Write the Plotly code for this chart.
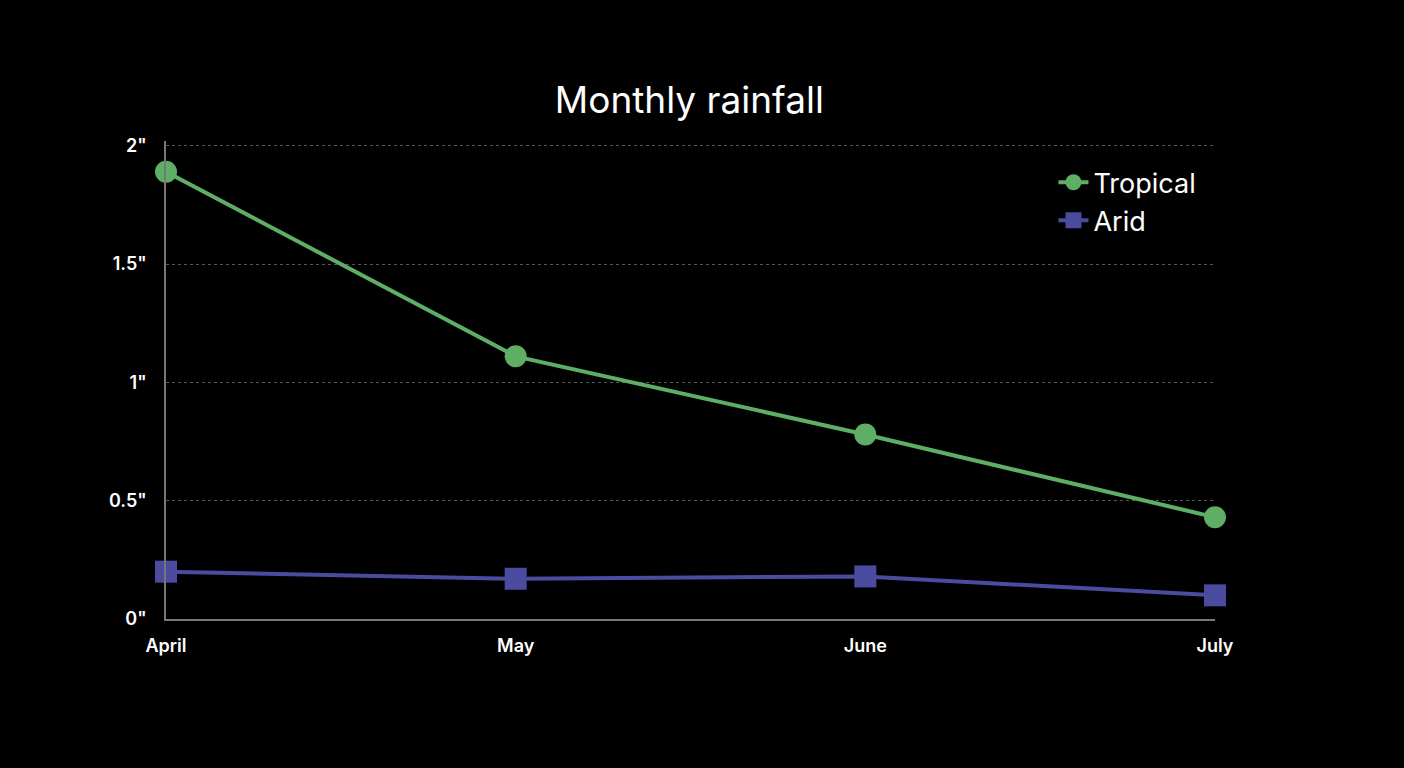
import plotly.graph_objects as go

months = ["April", "May", "June", "July"]
tropical = [1.89, 1.11, 0.78, 0.43]
arid = [0.20, 0.17, 0.18, 0.10]
y_ticks = [0, 0.5, 1, 1.5, 2]
y_labels = ['0"', '0.5"', '1"', '1.5"', '2"']

fig = go.Figure()
fig.add_trace(go.Scatter(
    x=months, y=tropical, name="Tropical", mode="lines+markers",
    line=dict(color="#5fae65", width=4),
    marker=dict(symbol="circle", size=22, color="#5fae65"),
    cliponaxis=False,
))
fig.add_trace(go.Scatter(
    x=months, y=arid, name="Arid", mode="lines+markers",
    line=dict(color="#4b4ba0", width=4),
    marker=dict(symbol="square", size=22, color="#4b4ba0"),
    cliponaxis=False,
))

fig.update_layout(
    width=1404, height=768,
    paper_bgcolor="black", plot_bgcolor="black",
    margin=dict(l=166, r=189, t=141, b=149),
    font=dict(family="Inter, Roboto, sans-serif", color="white", size=17),
    title=dict(text="Monthly rainfall", x=0.491, xanchor="center",
               y=0.87, yanchor="middle", font=dict(size=37, color="white")),
    legend=dict(x=0.846, y=0.964, xanchor="left", yanchor="top",
                font=dict(size=27, color="white"), bgcolor="rgba(0,0,0,0)",
                itemwidth=30),
    showlegend=True,
)
fig.update_xaxes(
    type="category", range=[0, 3], showgrid=False, zeroline=False,
    showline=True, linecolor="#777", linewidth=1.5,
    ticks="outside", ticklen=10, tickcolor="rgba(0,0,0,0)",
    tickfont=dict(size=18, color="white", weight=600),
)
fig.update_yaxes(
    range=[0, 2.02], tickvals=y_ticks, ticktext=y_labels, zeroline=False,
    showgrid=True, gridcolor="#555", griddash="dot", gridwidth=1,
    showline=True, linecolor="#777", linewidth=1.5,
    ticks="outside", ticklen=14, tickcolor="rgba(0,0,0,0)",
    tickfont=dict(size=18, color="white", weight=600),
)

fig.write_html(
    "out.html",
    config={"displayModeBar": False},
    post_script="document.body.style.margin='0';document.body.style.background='black';",
)
